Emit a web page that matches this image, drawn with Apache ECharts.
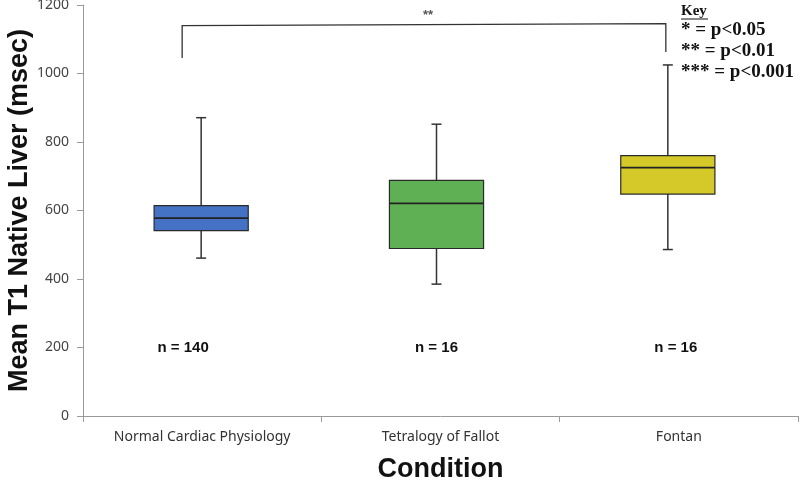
<!DOCTYPE html>
<html>
<head>
<meta charset="utf-8">
<script src="https://cdn.jsdelivr.net/npm/echarts@6/dist/echarts.min.js"></script>
<style>html,body{margin:0;padding:0;background:#fff;}#c{width:800px;height:483px;}</style>
</head>
<body>
<div id="c"></div>
<script>
const categories = ['Normal Cardiac Physiology', 'Tetralogy of Fallot', 'Fontan'];
const whiskerLow = [461, 385, 486];
const q1 = [541, 489, 648];
const median = [578, 621, 725];
const q3 = [614, 688, 760];
const whiskerHigh = [871, 852, 1025];
const nLabels = ['n = 140', 'n = 16', 'n = 16'];
const yTicks = [0, 200, 400, 600, 800, 1000, 1200];
// significance bracket: from category, to category, top value, left foot value, right foot value
const sigFrom = [0];
const sigTo = [2];
const sigTop = [1140];
const sigLeftEnd = [1045];
const sigRightEnd = [1063];
const sigLabel = ['**'];
const keyLines = ['* = p<0.05', '** = p<0.01', '*** = p<0.001'];

// styling (pixel nudges as in the original figure)
const boxFill = ['#4472C4', '#5FAF55', '#D5C92A'];
const boxShift = [-1, -4, -11];
const nShift = [-19, -4, -3];
const sigShift = [-20, -13];

const boxData = categories.map((c, i) => [i, whiskerLow[i], q1[i], median[i], q3[i], whiskerHigh[i]]);
const sigData = sigFrom.map((f, i) => [f, sigTo[i], sigTop[i], sigLeftEnd[i], sigRightEnd[i]]);
const nData = nLabels.map((t, i) => [i, 200]);

const chart = echarts.init(document.getElementById('c'));
chart.setOption({
  animation: false,
  backgroundColor: '#fff',
  grid: { left: 83, right: 2, top: 5, bottom: 67, outerBoundsMode: 'none', containLabel: false },
  xAxis: {
    type: 'category',
    data: categories,
    name: 'Condition',
    nameLocation: 'middle',
    nameGap: 40,
    nameMoveOverlap: false,
    nameTextStyle: { fontFamily: 'Liberation Sans', fontWeight: 'bold', fontSize: 27, color: '#111' },
    axisLine: { lineStyle: { color: '#9a9a9a', width: 1 } },
    axisTick: { show: true, length: 6, lineStyle: { color: '#9a9a9a' } },
    axisLabel: { fontFamily: 'Noto Sans', fontSize: 14, color: '#333', margin: 14 },
    splitLine: { show: false }
  },
  yAxis: {
    type: 'value',
    min: 0, max: 1200, interval: 200,
    name: 'Mean T1 Native Liver (msec)',
    nameLocation: 'middle',
    nameGap: 50,
    nameMoveOverlap: false,
    nameTextStyle: { fontFamily: 'Liberation Sans', fontWeight: 'bold', fontSize: 27, color: '#111' },
    axisLine: { show: true, lineStyle: { color: '#9a9a9a', width: 1 } },
    axisTick: { show: true, length: 6, lineStyle: { color: '#9a9a9a' } },
    axisLabel: { fontFamily: 'Noto Sans', fontSize: 14, color: '#444', margin: 14,
      formatter: v => yTicks.includes(v) ? String(v) : '' },
    splitLine: { show: false }
  },
  series: [
    {
      type: 'custom',
      data: boxData,
      renderItem: function (params, api) {
        const i = api.value(0);
        const x = api.coord([i, 0])[0] + boxShift[i];
        const bw = api.size([1, 0])[0] * 0.395;
        const yLow = api.coord([i, api.value(1)])[1];
        const yQ1 = api.coord([i, api.value(2)])[1];
        const yMed = api.coord([i, api.value(3)])[1];
        const yQ3 = api.coord([i, api.value(4)])[1];
        const yHigh = api.coord([i, api.value(5)])[1];
        const wl = { stroke: '#333', lineWidth: 1.5 };
        return {
          type: 'group',
          children: [
            { type: 'line', shape: { x1: x, y1: yQ1, x2: x, y2: yLow }, style: wl },
            { type: 'line', shape: { x1: x - 5, y1: yLow, x2: x + 5, y2: yLow }, style: wl },
            { type: 'line', shape: { x1: x, y1: yQ3, x2: x, y2: yHigh }, style: wl },
            { type: 'line', shape: { x1: x - 5, y1: yHigh, x2: x + 5, y2: yHigh }, style: wl },
            { type: 'rect', shape: { x: x - bw / 2, y: yQ3, width: bw, height: yQ1 - yQ3 },
              style: { fill: boxFill[i], stroke: '#2a2a2a', lineWidth: 1.2 } },
            { type: 'line', shape: { x1: x - bw / 2, y1: yMed, x2: x + bw / 2, y2: yMed },
              style: { stroke: '#222', lineWidth: 1.8 } }
          ]
        };
      },
      z: 3
    },
    {
      type: 'custom',
      data: sigData,
      renderItem: function (params, api) {
        const x0 = api.coord([api.value(0), 0])[0] + sigShift[0];
        const x1 = api.coord([api.value(1), 0])[0] + sigShift[1];
        const yTop = api.coord([0, api.value(2)])[1];
        const yL = api.coord([0, api.value(3)])[1];
        const yR = api.coord([0, api.value(4)])[1];
        return {
          type: 'group',
          children: [
            { type: 'polyline', shape: { points: [[x0, yL], [x0, yTop], [x1, yTop - 2], [x1, yR]] },
              style: { stroke: '#333', lineWidth: 1.3, fill: null } },
            { type: 'text', x: (x0 + x1) / 2 + 4, y: yTop - 10,
              style: { text: sigLabel[params.dataIndex], fill: '#555', font: 'bold 13px "Liberation Sans"',
                align: 'center', verticalAlign: 'middle' } }
          ]
        };
      },
      z: 4
    },
    {
      type: 'custom',
      data: nData,
      renderItem: function (params, api) {
        const i = api.value(0);
        const p = api.coord([i, api.value(1)]);
        return {
          type: 'text', x: p[0] + nShift[i], y: p[1],
          style: { text: nLabels[params.dataIndex], fill: '#111', font: 'bold 15px "Liberation Sans"',
            align: 'center', verticalAlign: 'middle' }
        };
      },
      z: 4
    }
  ],
  graphic: [
    { type: 'text', left: 681, top: 4, style: { text: 'Key', fill: '#111', font: 'bold 15px "Liberation Serif"' } },
    { type: 'line', shape: { x1: 681, y1: 19, x2: 708, y2: 19 }, style: { stroke: '#111', lineWidth: 1 } },
    { type: 'text', left: 681, top: 21, style: { text: keyLines[0], fill: '#111', font: 'bold 19px "Liberation Serif"' } },
    { type: 'text', left: 681, top: 42, style: { text: keyLines[1], fill: '#111', font: 'bold 19px "Liberation Serif"' } },
    { type: 'text', left: 681, top: 63, style: { text: keyLines[2], fill: '#111', font: 'bold 19px "Liberation Serif"' } }
  ]
});
</script>
</body>
</html>
